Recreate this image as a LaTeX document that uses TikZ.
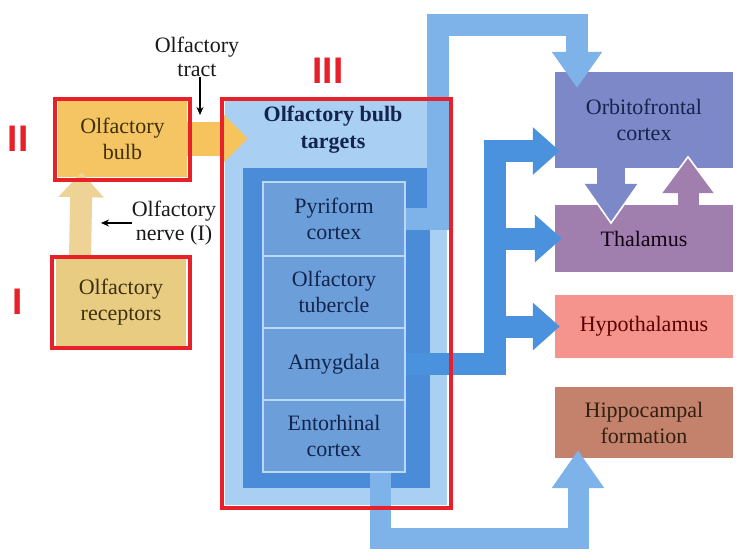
\documentclass[tikz,border=0pt]{standalone}
\usepackage{fontspec}
\setmainfont{Liberation Serif}
\newfontfamily\markfont{Liberation Sans}
\usetikzlibrary{arrows.meta}

\definecolor{bulbcol}{HTML}{F5C463}
\definecolor{tractcol}{HTML}{F7C35C}
\definecolor{recepcol}{HTML}{E8CC82}
\definecolor{nervecol}{HTML}{EDD396}
\definecolor{browntext}{HTML}{3E300C}
\definecolor{targetcol}{HTML}{A9CFF2}
\definecolor{framecol}{HTML}{4B8CD8}
\definecolor{innercol}{HTML}{6C9FDA}
\definecolor{innerline}{HTML}{B8D8F5}
\definecolor{bandcol}{HTML}{7DB3E8}
\definecolor{bundlecol}{HTML}{4A92DE}
\definecolor{navytext}{HTML}{13244D}
\definecolor{orbitocol}{HTML}{7D88C9}
\definecolor{thalcol}{HTML}{A07FAF}
\definecolor{hypocol}{HTML}{F5948C}
\definecolor{hippocol}{HTML}{C4826C}
\definecolor{markred}{HTML}{E8202A}

\begin{document}
\begin{tikzpicture}[x=1pt, y=-1pt,
  box style/.style={rectangle, inner sep=0pt, align=center, font=\fontsize{22}{26}\selectfont},
  inner style/.style={box style, fill=innercol, draw=innerline, line width=2.5pt, minimum width=142pt, text=navytext},
  right style/.style={box style, minimum width=178pt},
  label style/.style={align=center, inner sep=0pt, text=black!90, font=\fontsize{22}{24}\selectfont},
  mark style/.style={draw=markred, line width=4pt},
  roman style/.style={inner sep=0pt, text=markred, font=\markfont\bfseries\fontsize{37}{37}\selectfont},
  fat arrow/.style={line width=21pt, line join=miter},
  small arrow/.style={line width=1.6pt, -{Stealth[length=8pt, width=7pt]}}]
	\fill[white] (0,0) rectangle (736,554);
	\useasboundingbox (0,0) rectangle (736,554);
	% olfactory bulb targets
	\node[box style, fill=targetcol, minimum width=222pt, minimum height=405pt] (targets) at (336, 302.5) {};
	\node[box style, fill=framecol, minimum width=187pt, minimum height=320pt] (frame) at (336.5, 328) {};
	\node[box style, text=navytext, font=\bfseries\fontsize{22}{27}\selectfont] (header) at (333, 130) {Olfactory bulb\\targets};
	\node[inner style, minimum height=74pt] (pyr) at (334, 219) {Pyriform\\cortex};
	\node[inner style, minimum height=72pt] (tub) at (334, 292) {Olfactory\\tubercle};
	\node[inner style, minimum height=72pt] (amy) at (334, 364) {Amygdala};
	\node[inner style, minimum height=72pt] (ento) at (334, 436) {Entorhinal\\cortex};
	% right column
	\node[right style, fill=orbitocol, minimum height=96pt, text=navytext] (orbito) at (644, 120) {Orbitofrontal\\cortex};
	\node[right style, fill=thalcol, minimum height=67pt, text=black!85!violet] (thal) at (644, 238.5) {Thalamus};
	\node[right style, fill=hypocol, minimum height=63pt, text=black!65!red] (hypo) at (644, 326.5) {Hypothalamus};
	\node[right style, fill=hippocol, minimum height=71pt, text=black!75!brown] (hippo) at (644, 422.5) {Hippocampal\\formation};
	% left column
	\node[box style, fill=bulbcol, minimum width=129pt, minimum height=77pt, text=browntext] (bulb) at (122.5, 138.5) {Olfactory\\bulb};
	\node[box style, fill=recepcol, minimum width=130pt, minimum height=87pt, text=browntext] (recep) at (121, 302.5) {Olfactory\\receptors};
	\node[label style] (tractlbl) at (197, 57) {Olfactory\\tract};
	\node[label style] (nervelbl) at (174, 223) {Olfactory\\nerve (I)};
	% turning points
	\coordinate (up corner) at (438, 25);
	\coordinate (down corner) at (577, 25);
	\coordinate (low left) at (380, 538);
	\coordinate (low right) at (578, 538);
	\coordinate (j1) at (495, 364);
	\coordinate (j2) at (495, 151);
	\coordinate (j3) at (495, 238.5);
	\coordinate (j4) at (495, 326.5);
	\coordinate (tract tip) at (200, 115);
	\coordinate (nerve tip) at (101, 223);
	% connectors
	\draw[fat arrow, bandcol, line width=22pt, shorten >=-16pt, -{Triangle[width=48pt, length=36pt]}] (pyr.east) -| (up corner) -- (down corner) -- (down corner |- orbito.north);
	\draw[fat arrow, bandcol, shorten >=-8pt, -{Triangle[width=50pt, length=38pt]}] ([xshift=46pt]ento.south) -- (low left) -- (low right) -- (low right |- hippo.south);
	\draw[fat arrow, bundlecol, line width=22pt, shorten >=-5pt, -{Triangle[width=46pt, length=27pt]}] (amy.east) -- (j1) -- (j2) -- (j2 -| orbito.west);
	\draw[fat arrow, bundlecol, line width=22pt, shorten >=-7pt, -{Triangle[width=46pt, length=27pt]}] (j3) -- (thal.west);
	\draw[fat arrow, bundlecol, line width=22pt, shorten >=-5pt, -{Triangle[width=46pt, length=27pt]}] (j4) -- (hypo.west);
	\draw[fat arrow, orbitocol, line width=28pt, shorten >=-17pt, -{Triangle[width=50pt, length=38pt]},
	  preaction={draw=white, line width=31pt, shorten >=-20pt, -{Triangle[width=57pt, length=43pt]}}] ([xshift=-33pt]orbito.south) -- ([xshift=-33pt]thal.north);
	\draw[fat arrow, thalcol, shorten >=-10pt, -{Triangle[width=49pt, length=35pt]},
	  preaction={draw=white, line width=24pt, shorten >=-13pt, -{Triangle[width=56pt, length=40pt]}}] ([xshift=44pt]thal.north) -- ([xshift=44pt]orbito.south);
	\draw[fat arrow, nervecol, line width=22pt, shorten >=-5pt, -{Triangle[width=44pt, length=25pt]}] ([xshift=-41pt]recep.north) -- ([xshift=-41pt]bulb.south);
	\draw[fat arrow, tractcol, line width=34pt, shorten >=-23pt, -{Triangle[width=46pt, length=24pt]}] (bulb.east) -- (bulb.east -| targets.west);
	\draw[small arrow] (tractlbl.south -| tract tip) -- (tract tip);
	\draw[small arrow] (nervelbl.west) -- (nerve tip);
	% red marks
	\draw[mark style] (55, 99) rectangle (190, 180);
	\draw[mark style] (52, 257) rectangle (190, 348);
	\draw[mark style] (222, 99) rectangle (451, 508);
	\node[roman style] (mark II) at (18, 139) {II};
	\node[roman style] (mark I) at (18, 302) {I};
	\node[roman style] (mark III) at (328, 71) {III};
\end{tikzpicture}
\end{document}
